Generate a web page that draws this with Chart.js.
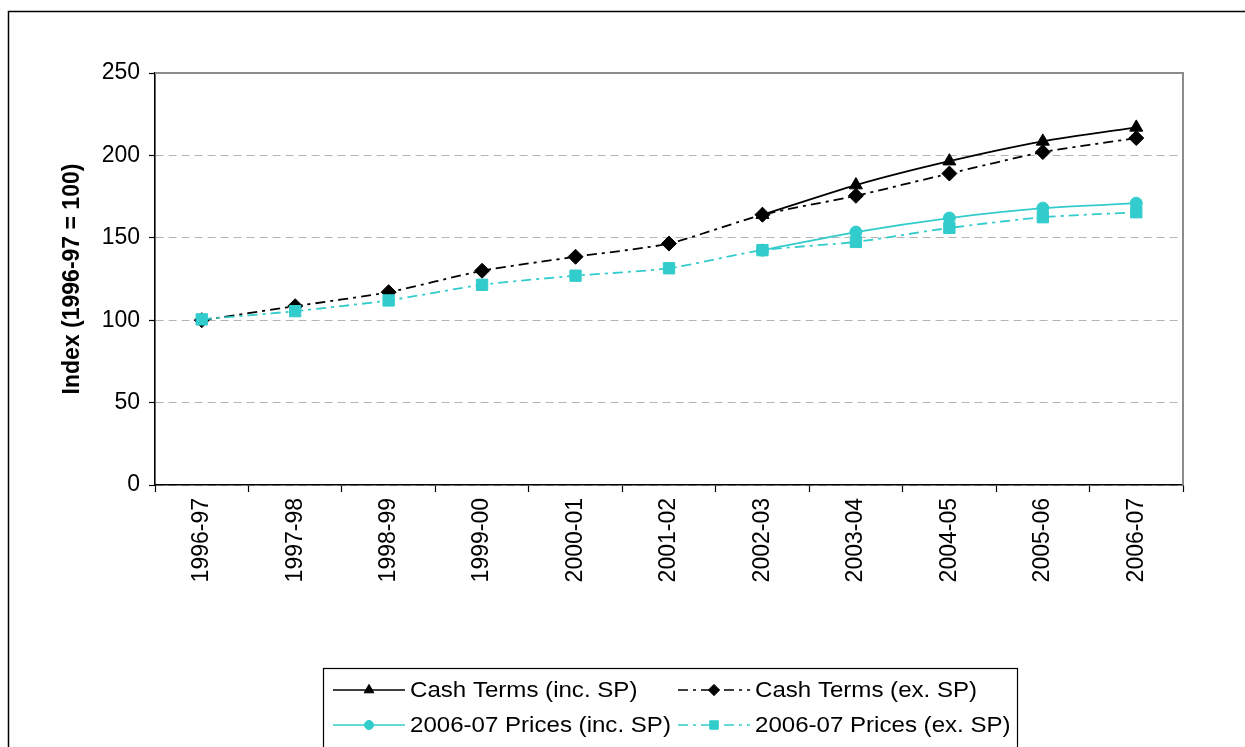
<!DOCTYPE html>
<html>
<head>
<meta charset="utf-8">
<script src="https://cdn.jsdelivr.net/npm/chart.js"></script>
<style>
  html, body { margin: 0; padding: 0; background: #fff; }
  #wrap { position: relative; width: 1245px; height: 747px; }
</style>
</head>
<body>
<div id="wrap"><canvas id="chart"></canvas></div>
<script>
// values
const years = ['1996-97', '1997-98', '1998-99', '1999-00', '2000-01', '2001-02',
               '2002-03', '2003-04', '2004-05', '2005-06', '2006-07'];
const cashInc   = [null, null, null, null, null, null, 164, 182, 196.5, 208.5, 217];
const cashEx    = [100, 108.5, 117, 130, 138.5, 146.5, 164, 175.5, 189, 202, 210.5];
const pricesInc = [null, null, null, null, null, null, 142.5, 153.5, 162, 168, 171];
const pricesEx  = [100.5, 105.5, 112, 121.5, 127, 131.5, 142.5, 147.5, 156, 162.5, 165.5];
const seriesNames = ['Cash Terms (inc. SP)', 'Cash Terms (ex. SP)',
                     '2006-07 Prices (inc. SP)', '2006-07 Prices (ex. SP)'];

const FONT = "'Liberation Sans', Arial, sans-serif";
const CYAN = '#33CCCC';
const DASHDOT = [10, 5, 3, 5];

function series(label, data, color, dash, style, radius, order) {
    return {
        label: label,
        data: data,
        borderColor: color,
        backgroundColor: color,
        borderWidth: 1.8,
        borderDash: dash,
        pointStyle: style,
        pointRadius: radius,
        pointBorderWidth: 1,
        pointBackgroundColor: color,
        pointBorderColor: color,
        tension: 0.2,
        spanGaps: false,
        order: order
    };
}

// frame around plot area, outer box, and the legend
const decorations = {
    id: 'decorations',
    beforeDatasetsDraw(chart) {
        const ctx = chart.ctx;
        const a = chart.chartArea;
        ctx.save();
        ctx.strokeStyle = '#8c8c8c';
        ctx.lineWidth = 2;
        ctx.beginPath();
        ctx.moveTo(a.left, a.top);
        ctx.lineTo(a.right, a.top);
        ctx.lineTo(a.right, a.bottom);
        ctx.stroke();
        ctx.restore();
    },
    afterDraw(chart) {
        const ctx = chart.ctx;
        ctx.save();
        // outer chart box
        ctx.strokeStyle = '#000';
        ctx.lineWidth = 1.5;
        ctx.beginPath();
        ctx.moveTo(8.5, 760);
        ctx.lineTo(8.5, 11.5);
        ctx.lineTo(1260, 11.5);
        ctx.stroke();

        // legend box
        ctx.lineWidth = 1.2;
        ctx.strokeRect(323.5, 668.5, 694, 100);

        const colX = [333, 678];
        const rowY = [690, 725];
        const sampleLen = 72;
        chart.data.datasets.forEach((ds, i) => {
            const x0 = colX[i % 2];
            const y = rowY[Math.floor(i / 2)];
            ctx.strokeStyle = ds.borderColor;
            ctx.lineWidth = 1.6;
            ctx.setLineDash(ds.borderDash || []);
            ctx.beginPath();
            ctx.moveTo(x0, y);
            ctx.lineTo(x0 + sampleLen, y);
            ctx.stroke();
            ctx.setLineDash([]);
            ctx.fillStyle = ds.pointBackgroundColor;
            ctx.strokeStyle = ds.pointBorderColor;
            ctx.lineWidth = 1;
            Chart.helpers.drawPoint(ctx, {pointStyle: ds.pointStyle, rotation: 0,
                radius: ds.pointRadius * 0.75, borderWidth: 1}, x0 + sampleLen / 2, y);
            // text is a little wider than plain Arial in the original
            ctx.save();
            ctx.translate(x0 + sampleLen + 5, y + 1);
            ctx.scale(1.07, 1);
            ctx.fillStyle = '#000';
            ctx.font = '22.5px ' + FONT;
            ctx.textAlign = 'left';
            ctx.textBaseline = 'middle';
            ctx.fillText(ds.label, 0, 0);
            ctx.restore();
        });
        ctx.restore();
    }
};

new Chart(document.getElementById('chart'), {
    type: 'line',
    data: {
        labels: years,
        datasets: [
            series(seriesNames[0], cashInc, '#000000', [], 'triangle', 7.5, 2),
            series(seriesNames[1], cashEx, '#000000', DASHDOT, 'rectRot', 7.5, 3),
            series(seriesNames[2], pricesInc, CYAN, [], 'circle', 6, 1),
            series(seriesNames[3], pricesEx, CYAN, DASHDOT, 'rect', 8, 0)
        ]
    },
    options: {
        responsive: true,
        maintainAspectRatio: false,
        animation: false,
        layout: { padding: { left: 0, top: 73, right: 62, bottom: 0 } },
        plugins: {
            legend: { display: false },
            tooltip: { enabled: false },
            title: { display: false }
        },
        scales: {
            x: {
                offset: true,
                afterFit(scale) { scale.height = 262; },
                grid: {
                    offset: true,
                    drawOnChartArea: false,
                    tickLength: 7,
                    tickColor: '#000',
                    tickWidth: 1.2
                },
                border: { color: '#000', width: 1.6 },
                ticks: {
                    color: '#000',
                    font: { family: FONT, size: 23 },
                    minRotation: 90,
                    maxRotation: 90,
                    padding: 6,
                    autoSkip: false
                }
            },
            y: {
                min: 0,
                max: 250,
                afterFit(scale) { scale.width = 155; },
                grid: {
                    color: '#b4b4b4',
                    lineWidth: 1,
                    tickLength: 6,
                    tickColor: '#000',
                    tickWidth: 1.2
                },
                border: { color: '#000', width: 1.6, dash: [8, 5] },
                ticks: {
                    stepSize: 50,
                    color: '#000',
                    font: { family: FONT, size: 23 },
                    padding: 9
                },
                title: {
                    display: true,
                    text: 'Index (1996-97 = 100)',
                    color: '#000',
                    font: { family: FONT, size: 23, weight: 'bold' },
                    padding: { top: 59, bottom: 0 }
                }
            }
        }
    },
    plugins: [decorations]
});
</script>
</body>
</html>
